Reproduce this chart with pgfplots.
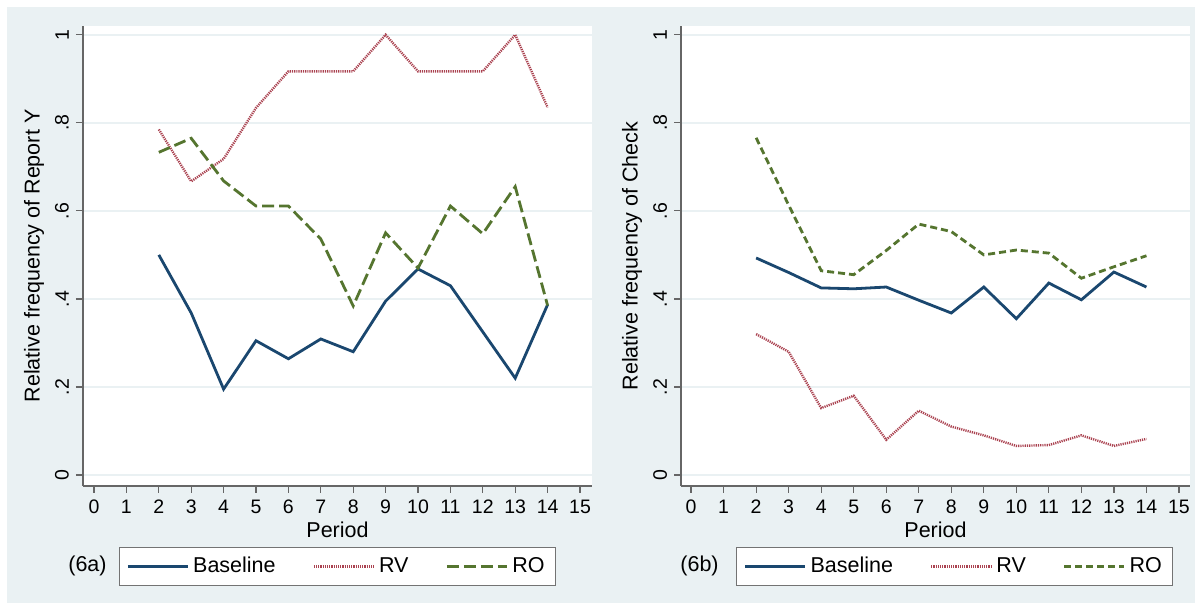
\documentclass[border=0pt]{standalone}
\usepackage{fontspec}
\setmainfont{Liberation Sans}
\usepackage{pgfplots}
\usepackage{pgfplotstable}
\pgfplotsset{compat=1.18}
\definecolor{sbg}{RGB}{234,241,243}
\definecolor{snavy}{RGB}{26,71,111}
\definecolor{smaroon}{RGB}{170,66,80}
\definecolor{sforest}{RGB}{85,117,47}
\definecolor{sgrid}{RGB}{234,241,243}
\newcommand\lblfont{\fontsize{10.75}{12}\selectfont}
\newcommand\tickfont{\fontsize{9.75}{11}\selectfont}

\pgfplotstableread{
p base rv ro
2  0.500 0.785 0.733
3  0.368 0.667 0.765
4  0.195 0.718 0.668
5  0.305 0.834 0.611
6  0.264 0.917 0.611
7  0.309 0.917 0.536
8  0.280 0.917 0.384
9  0.395 1.000 0.550
10 0.468 0.917 0.470
11 0.430 0.917 0.611
12 0.325 0.917 0.548
13 0.220 1.000 0.655
14 0.387 0.835 0.385
}\tabA

\pgfplotstableread{
p base rv ro
2  0.493 0.320 0.766
3  0.460 0.280 0.613
4  0.425 0.152 0.464
5  0.423 0.180 0.455
6  0.427 0.080 0.510
7  0.397 0.146 0.570
8  0.368 0.110 0.553
9  0.427 0.090 0.500
10 0.355 0.066 0.511
11 0.436 0.068 0.504
12 0.398 0.090 0.447
13 0.461 0.066 0.473
14 0.427 0.082 0.498
}\tabB

\pgfplotsset{
  stataax/.style={
    scale only axis,
    width=254.5pt, height=230pt,
    ymin=-0.025, ymax=1.02,
    axis x line*=bottom, axis y line*=left,
    axis line style={-, black!60, line width=0.6pt},
    tick align=outside, major tick length=3.5pt,
    tick style={black!60, line width=0.6pt},
    xtick={0,1,2,3,4,5,6,7,8,9,10,11,12,13,14,15},
    xticklabels={0,1,2,3,4,5,6,7,8,9,10,11,12,13,14,15},
    ytick={0,0.2,0.4,0.6,0.8,1},
    yticklabels={0,.2,.4,.6,.8,1},
    ticklabel style={font=\tickfont, text=black},
    yticklabel style={rotate=90, anchor=south},
    ymajorgrids, grid style={sgrid, line width=0.8pt},
    axis background/.style={fill=white},
    label style={font=\lblfont, text=black},
    xlabel={Period},
    xlabel style={at={(axis description cs:0.5,0)}, anchor=center, yshift=-22pt},
    ylabel style={at={(axis description cs:0,0.5)}, anchor=center, yshift=24.5pt},
    legend columns=3,
    legend image code/.code={\draw[##1] (0pt,0pt) -- (30pt,0pt);},
    legend style={anchor=center, draw=black!55, fill=white, line width=0.5pt,
      font=\lblfont, inner xsep=3.5pt, inner ysep=3pt,
      /tikz/every even column/.append style={column sep=16.5pt}},
  },
  basest/.style={snavy, line width=1.4pt},
  rvst/.style={smaroon, line width=1.2pt, dash pattern=on 0.6pt off 0.5pt},
}

\begin{document}
\begin{tikzpicture}
\path[use as bounding box] (0pt,0pt) rectangle (601.5pt,301.5pt);
\fill[white] (0pt,0pt) rectangle (601.5pt,301.5pt);
\fill[sbg] (3.5pt,0pt) rectangle (597.5pt,298pt);

\begin{axis}[stataax, at={(41.5pt,58.5pt)}, anchor=south west,
  xmin=-0.34, xmax=15.37,
  ylabel={Relative frequency of Report Y},
  legend style={at={(0.5,-0.175)}}]
\addplot[basest] table[x=p, y=base] {\tabA};
\addplot[rvst] table[x=p, y=rv] {\tabA};
\addplot[sforest, line width=1.4pt, dash pattern=on 6pt off 2.5pt] table[x=p, y=ro] {\tabA};
\legend{Baseline, RV, RO}
\end{axis}
\node[font=\lblfont] at (43.75pt,18.5pt) {(6a)};

\begin{axis}[stataax, at={(340.5pt,58.5pt)}, anchor=south west,
  xmin=-0.31, xmax=15.34,
  ylabel={Relative frequency of Check},
  legend style={at={(0.538,-0.175)}}]
\addplot[basest] table[x=p, y=base] {\tabB};
\addplot[rvst] table[x=p, y=rv] {\tabB};
\addplot[sforest, line width=1.4pt, dash pattern=on 3.5pt off 2pt] table[x=p, y=ro] {\tabB};
\legend{Baseline, RV, RO}
\end{axis}
\node[font=\lblfont] at (349.75pt,18.5pt) {(6b)};
\end{tikzpicture}
\end{document}
